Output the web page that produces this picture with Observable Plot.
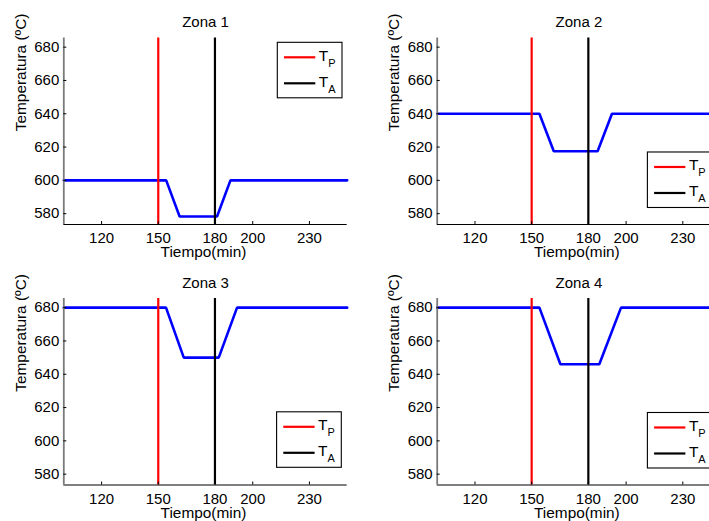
<!DOCTYPE html>
<html><head><meta charset="utf-8">
<script src="https://cdn.jsdelivr.net/npm/d3@7"></script>
<script src="https://cdn.jsdelivr.net/npm/@observablehq/plot@0.6"></script>
<style>
html,body{margin:0;padding:0;background:#fff;overflow:hidden;width:709px;height:521px;}
#root{position:relative;width:709px;height:521px;overflow:hidden;background:#fff;}
.panel{position:absolute;}
.panel svg{overflow:visible;max-width:none !important;display:block;}
</style></head><body><div id="root"></div>
<script>
// ---- data ----
const zoneTitles = ["Zona 1", "Zona 2", "Zona 3", "Zona 4"];
const xTicks = [120, 150, 180, 200, 230];
const yTicks = [580, 600, 620, 640, 660, 680];
const xDomain = [100, 250];
const yDomain = [573.5, 685.5];
const tP = 150;   // T_P
const tA = 180;   // T_A
const xLabel = "Tiempo(min)";
const yLabel = "Temperatura (ºC)";
const legendNames = ["P", "A"];

const zone1Time = [100, 154.2, 161.3, 181.1, 188.2, 250];
const zone1Temp = [600, 600, 578.3, 578.3, 600, 600];
const zone2Time = [100, 154.1, 161.7, 184.9, 192.5, 250];
const zone2Temp = [640, 640, 617.5, 617.5, 640, 640];
const zone3Time = [100, 154.1, 163.5, 182.0, 191.7, 250];
const zone3Temp = [680, 680, 650, 650, 680, 680];
const zone4Time = [100, 154.1, 165.2, 185.8, 197.3, 250];
const zone4Temp = [680, 680, 646, 646, 680, 680];

const series = [
  [zone1Time, zone1Temp], [zone2Time, zone2Temp],
  [zone3Time, zone3Temp], [zone4Time, zone4Temp]
];

// ---- layout ----
const FONT = "'Liberation Sans', Arial, Helvetica, sans-serif";
const panels = [
  {left: 0,   top: 0,   width: 360,   height: 260, mL: 63.3, mT: 37.5, mB: 36,   legend: "tr"},
  {left: 360, top: 0,   width: 373.4, height: 260, mL: 76.7, mT: 37.5, mB: 36,   legend: "br2"},
  {left: 0,   top: 260, width: 360,   height: 261, mL: 63.3, mT: 38,   mB: 36.5, legend: "br"},
  {left: 360, top: 260, width: 373.4, height: 261, mL: 76.7, mT: 38,   mB: 36.5, legend: "br2"}
];
const mR = 13.3;

const root = document.getElementById("root");

panels.forEach((p, i) => {
  const [T, V] = series[i];
  const data = T.map((t, k) => ({t, v: V[k]}));
  const chart = Plot.plot({
    width: p.width, height: p.height,
    marginLeft: p.mL, marginRight: mR, marginTop: p.mT, marginBottom: p.mB,
    style: {fontFamily: FONT, fontSize: "15px", color: "black", background: "transparent"},
    x: {domain: xDomain, ticks: xTicks},
    y: {domain: yDomain, ticks: yTicks},
    marks: [
      Plot.line(data, {x: "t", y: "v", stroke: "#0000ff", strokeWidth: 2.6, strokeLinejoin: "miter"}),
      Plot.ruleX([tP], {stroke: "#ff0000", strokeWidth: 2.2}),
      Plot.ruleX([tA], {stroke: "#000000", strokeWidth: 2.2}),
      Plot.ruleY([yDomain[0]], {stroke: "#000", strokeWidth: 1.2}),
      Plot.ruleX([xDomain[0]], {stroke: "#7a7a7a", strokeWidth: 1.8}),
      Plot.axisX(xTicks, {anchor: "bottom", tickSize: 0, tickPadding: 8, fontSize: 15, label: null}),
      Plot.axisX(xTicks, {anchor: "bottom", tickSize: -3, tickFormat: () => "", label: null, stroke: "#000"}),
      Plot.axisY(yTicks, {anchor: "left", tickSize: 0, tickPadding: 4.5, fontSize: 15, label: null}),
      Plot.axisY(yTicks, {anchor: "left", tickSize: -3, tickFormat: () => "", label: null, stroke: "#000"}),
      Plot.text([zoneTitles[i]], {frameAnchor: "top", dy: -10.8, lineAnchor: "bottom", fontSize: 15, fill: "#000"}),
      Plot.text([xLabel], {frameAnchor: "bottom", dx: -2, dy: 32.7, lineAnchor: "bottom", fontSize: 15.4, fill: "#000"}),
      Plot.text([yLabel], {frameAnchor: "left", rotate: -90, dx: -37.8, lineAnchor: "bottom", fontSize: 15.4, fill: "#000"})
    ]
  });
  chart.style.maxWidth = "none";

  // legend box
  const svg = d3.select(chart);
  const fr = p.width - mR, ft = p.mT, fb = p.height - p.mB;
  const bw = 64.7, bh = 55.5;
  let bx, by;
  if (p.legend === "tr") { bx = fr - 4.7 - bw; by = ft + 4.8; }
  else if (p.legend === "br") { bx = fr - 5.4 - bw; by = fb - 17.2 - bh; }
  else { bx = fr - 72.7; by = fb - 16.5 - bh; }
  const g = svg.append("g").attr("font-family", FONT).attr("text-anchor", "start");
  g.append("rect").attr("x", bx).attr("y", by).attr("width", bw).attr("height", bh)
    .attr("fill", "#fff").attr("stroke", "#000").attr("stroke-width", 1.1);
  const colors = ["#ff0000", "#000000"];
  legendNames.forEach((n, k) => {
    const ly = by + 15 + k * 26;
    g.append("line").attr("x1", bx + 6.7).attr("x2", bx + 38).attr("y1", ly).attr("y2", ly)
      .attr("stroke", colors[k]).attr("stroke-width", 2.2);
    const t = g.append("text").attr("x", bx + 41.5).attr("y", ly + 3.2).attr("font-size", 15.5)
      .attr("fill", "#000").attr("text-anchor", "start");
    t.append("tspan").text("T");
    t.append("tspan").attr("font-size", 11).attr("dy", 6.2).text(n);
  });

  const div = document.createElement("div");
  div.className = "panel";
  div.style.left = p.left + "px";
  div.style.top = p.top + "px";
  div.style.width = p.width + "px";
  div.style.height = p.height + "px";
  div.appendChild(chart);
  root.appendChild(div);
});
</script>
</body></html>
